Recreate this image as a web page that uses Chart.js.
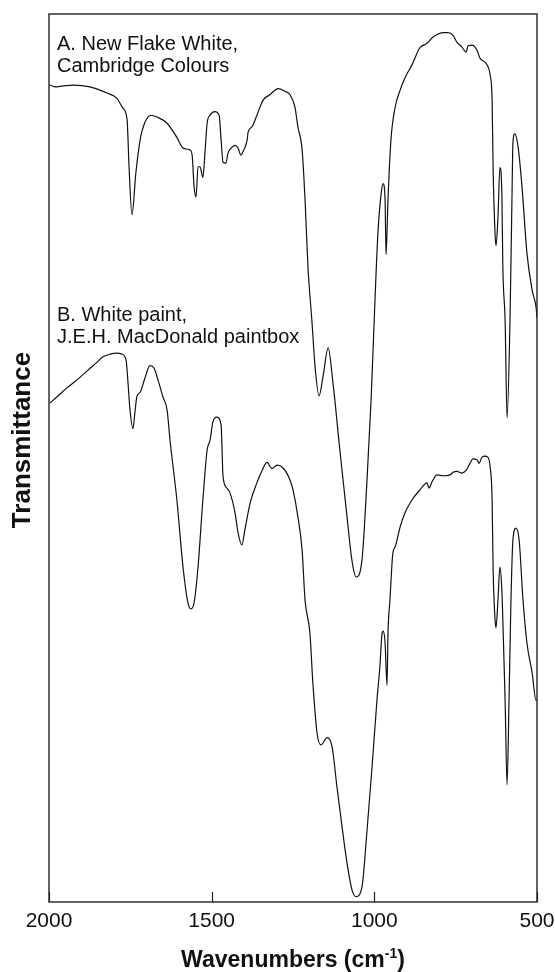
<!DOCTYPE html>
<html lang="en">

<head>
    <meta charset="UTF-8">
    <title>FTIR spectra</title>
    <script src="https://cdn.jsdelivr.net/npm/chart.js"></script>
    <style>
        body {
            margin: 0;
            background: #fff;
        }

        #wrap {
            width: 555px;
            height: 972px;
        }
    </style>
</head>

<body>
    <div id="wrap"><canvas id="spectra"></canvas></div>

    <script>
        // x axis ticks (wavenumbers, reversed axis)
        const tickValues = [2000, 1500, 1000, 500];

        // A. New Flake White, Cambridge Colours
        const wavenumbersA = [1997, 1982, 1957, 1926, 1874, 1822, 1791, 1773, 1760, 1754, 1745, 1733, 1720, 1705, 1686, 1668,
            1637, 1607, 1588, 1567, 1560, 1554, 1548, 1542, 1536, 1527, 1520, 1514, 1505, 1490, 1477, 1471, 1465, 1456,
            1450, 1437, 1428, 1419, 1410, 1404, 1391, 1388, 1376, 1361, 1342, 1321, 1296, 1275, 1259, 1244, 1235, 1222,
            1213, 1204, 1192, 1182, 1170, 1158, 1142, 1127, 1106, 1084, 1069, 1056, 1038, 1023, 1010, 998, 989, 979,
            973, 967, 964, 958, 949, 936, 921, 906, 884, 860, 838, 823, 807, 789, 774, 758, 746, 731, 718, 712, 700,
            684, 675, 669, 654, 644, 638, 635, 629, 626, 620, 614, 608, 605, 598, 592, 583, 577, 574, 568, 558, 546,
            531, 515, 503, 500];
        const transmittanceA = [92.0, 91.8, 91.9, 92.0, 91.8, 91.1, 90.5, 89.4, 88.1, 82.8, 77.4, 82.1, 85.8, 87.8, 88.6, 88.4,
            87.7, 86.1, 84.9, 84.7, 84.1, 80.5, 79.4, 82.8, 82.8, 81.6, 84.7, 87.7, 88.6, 89.0, 88.6, 85.8, 83.3, 83.2,
            84.3, 85.0, 85.2, 84.9, 84.1, 84.5, 85.8, 86.7, 87.3, 88.6, 90.3, 90.9, 91.6, 91.3, 90.9, 89.5, 87.3, 84.7,
            79.1, 71.5, 65.5, 60.2, 57.0, 59.1, 62.4, 58.4, 50.9, 43.4, 38.5, 36.6, 38.5, 47.2, 56.5, 67.8, 75.3, 79.8,
            80.9, 79.1, 72.9, 79.1, 85.8, 89.5, 91.4, 92.8, 94.3, 96.2, 96.7, 97.3, 97.7, 97.9, 97.9, 97.6, 96.8, 96.3,
            95.7, 96.4, 96.5, 95.9, 95.0, 94.8, 94.3, 93.1, 90.3, 82.8, 75.3, 73.9, 77.1, 82.7, 79.8, 71.5, 65.5, 54.5,
            65.5, 79.1, 85.5, 86.5, 85.0, 80.5, 73.1, 68.9, 67.0, 65.8];

        // B. White paint, J.E.H. MacDonald paintbox
        const wavenumbersB = [1997, 1975, 1945, 1914, 1880, 1852, 1834, 1812, 1791, 1776, 1763, 1757, 1751, 1742, 1736, 1730,
            1720, 1705, 1690, 1677, 1665, 1650, 1637, 1628, 1607, 1588, 1573, 1564, 1554, 1542, 1527, 1514, 1505, 1496,
            1484, 1471, 1465, 1453, 1444, 1428, 1419, 1407, 1398, 1382, 1361, 1345, 1330, 1315, 1299, 1281, 1259, 1250,
            1235, 1222, 1213, 1198, 1189, 1176, 1164, 1145, 1130, 1115, 1099, 1084, 1069, 1056, 1038, 1023, 1007, 992,
            983, 976, 973, 967, 961, 958, 952, 943, 936, 921, 906, 884, 860, 838, 832, 823, 807, 789, 767, 758, 746,
            731, 718, 706, 697, 684, 678, 669, 660, 651, 644, 638, 635, 629, 626, 620, 614, 608, 605, 598, 592, 586,
            580, 574, 565, 555, 543, 531, 515, 503, 500];
        const transmittanceB = [56.2, 56.9, 57.9, 58.8, 59.9, 60.8, 61.4, 61.7, 61.8, 61.7, 61.0, 58.4, 55.4, 53.3, 55.1, 56.9,
            57.4, 59.0, 60.4, 60.1, 58.8, 56.9, 55.4, 52.0, 45.3, 37.7, 33.7, 33.0, 33.7, 37.7, 45.3, 50.9, 52.0, 54.1,
            54.6, 53.7, 47.9, 46.6, 46.1, 43.8, 41.6, 40.2, 41.9, 44.9, 47.2, 48.6, 49.5, 48.8, 49.2, 48.9, 47.5, 46.4,
            43.4, 39.6, 34.0, 30.3, 24.7, 19.0, 17.7, 18.5, 17.5, 13.0, 8.4, 4.4, 1.4, 0.6, 1.7, 7.8, 15.2, 22.7,
            26.5, 30.3, 30.5, 29.2, 24.4, 30.3, 34.0, 39.3, 40.0, 42.2, 43.8, 45.3, 46.4, 47.2, 46.6, 47.3, 48.1, 48.0,
            48.1, 48.4, 48.5, 48.3, 48.6, 49.4, 49.9, 49.8, 49.4, 50.1, 50.2, 50.1, 49.0, 45.3, 37.7, 31.8, 30.9, 34.0,
            37.7, 35.1, 31.8, 22.7, 13.2, 22.7, 34.0, 40.8, 42.1, 40.8, 34.0, 29.2, 25.8, 22.7, 22.7];

        const labelsA = ['A. New Flake White,', 'Cambridge Colours'];
        const labelsB = ['B. White paint,', 'J.E.H. MacDonald paintbox'];

        const fuente = '"Liberation Sans", Arial, sans-serif';

        function toPoints(xs, ys) {
            return xs.map((x, i) => ({ x: x, y: ys[i] }));
        }

        // frame, inward tick marks, labels and axis titles
        const extras = {
            id: 'extras',
            afterDraw(chart) {
                const ctx = chart.ctx;
                const area = chart.chartArea;
                const xs = chart.scales.x;

                ctx.save();
                ctx.strokeStyle = '#222';
                ctx.lineWidth = 1.4;
                ctx.strokeRect(area.left, area.top, area.right - area.left, area.bottom - area.top);

                ctx.lineWidth = 1.2;
                tickValues.forEach(v => {
                    const px = Math.round(xs.getPixelForValue(v)) + 0.5;
                    ctx.beginPath();
                    ctx.moveTo(px, area.bottom);
                    ctx.lineTo(px, area.bottom - 10);
                    ctx.stroke();
                });

                ctx.fillStyle = '#111';
                ctx.font = '20px ' + fuente;
                ctx.textAlign = 'left';
                ctx.textBaseline = 'alphabetic';
                ctx.fillText(labelsA[0], 57, 50);
                ctx.fillText(labelsA[1], 57, 72);
                ctx.fillText(labelsB[0], 57, 321);
                ctx.fillText(labelsB[1], 57, 343);

                // x title with superscript
                ctx.font = 'bold 23px ' + fuente;
                const t1 = 'Wavenumbers (cm';
                const t3 = ')';
                const w1 = ctx.measureText(t1).width;
                const w3 = ctx.measureText(t3).width;
                ctx.font = 'bold 14px ' + fuente;
                const t2 = '-1';
                const w2 = ctx.measureText(t2).width;
                const total = w1 + w2 + w3;
                let x0 = (area.left + area.right) / 2 - total / 2;
                const base = 967;
                ctx.font = 'bold 23px ' + fuente;
                ctx.fillText(t1, x0, base);
                ctx.font = 'bold 14px ' + fuente;
                ctx.fillText(t2, x0 + w1, base - 9);
                ctx.font = 'bold 23px ' + fuente;
                ctx.fillText(t3, x0 + w1 + w2, base);

                // y title
                ctx.translate(23, 440);
                ctx.rotate(-Math.PI / 2);
                ctx.textAlign = 'center';
                ctx.textBaseline = 'middle';
                ctx.font = 'bold 26px ' + fuente;
                ctx.fillText('Transmittance', 0, 0);
                ctx.restore();
            }
        };

        new Chart(document.getElementById('spectra'), {
            type: 'line',
            data: {
                datasets: [{
                    label: labelsA.join(' '),
                    data: toPoints(wavenumbersA, transmittanceA),
                    borderColor: '#111',
                    borderWidth: 1.2,
                    pointRadius: 0,
                    fill: false,
                    cubicInterpolationMode: 'monotone'
                }, {
                    label: labelsB.join(' '),
                    data: toPoints(wavenumbersB, transmittanceB),
                    borderColor: '#111',
                    borderWidth: 1.2,
                    pointRadius: 0,
                    fill: false,
                    cubicInterpolationMode: 'monotone'
                }]
            },
            options: {
                responsive: true,
                maintainAspectRatio: false,
                animation: false,
                layout: {
                    padding: { top: 14, right: 18, left: 0, bottom: 0 }
                },
                plugins: {
                    legend: { display: false },
                    tooltip: { enabled: false }
                },
                scales: {
                    x: {
                        type: 'linear',
                        reverse: true,
                        min: 500,
                        max: 2000,
                        afterBuildTicks: (s) => { s.ticks = tickValues.map(v => ({ value: v })); },
                        afterFit: (s) => {
                            s.height = 70;
                            s.paddingLeft = 0;
                            s.paddingRight = 0;
                        },
                        grid: { display: false, drawTicks: false },
                        border: { display: false },
                        ticks: {
                            color: '#111',
                            padding: 7,
                            maxRotation: 0,
                            font: { family: fuente, size: 21 },
                            callback: (v) => String(v)
                        }
                    },
                    y: {
                        min: 0,
                        max: 100,
                        afterFit: (s) => { s.width = 49; },
                        grid: { display: false, drawTicks: false },
                        border: { display: false },
                        ticks: { display: false }
                    }
                }
            },
            plugins: [extras]
        });
    </script>
</body>

</html>
